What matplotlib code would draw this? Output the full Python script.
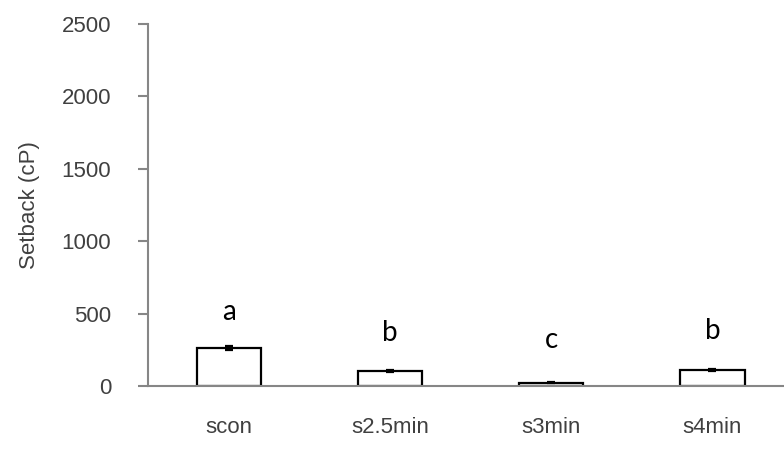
import numpy as np
import matplotlib.pyplot as plt

# setback viscosity per treatment
groups = ['scon', 's2.5min', 's3min', 's4min']
setback = [262, 104, 23, 110]
err = [12, 6, 5, 6]
letters = ['a', 'b', 'c', 'b']
letter_y = [511, 366, 318, 380]

fig = plt.figure(figsize=(7.84, 4.49), dpi=100)
ax = fig.add_axes([0.189, 0.1403, 0.8225, 0.8062])

x = np.arange(len(groups))
ax.bar(x, setback, width=0.4, color='white', edgecolor='black', linewidth=1.6, zorder=2)
ax.errorbar(x, setback, yerr=err, fmt='none', ecolor='black', elinewidth=1.6,
            capsize=3, capthick=1.6, zorder=3)

for xi, lab, ly in zip(x, letters, letter_y):
    ax.text(xi, ly, lab, ha='center', va='center', fontsize=20,
            family='Lato', color='black')

ax.set_xlim(-0.5, len(groups) - 0.5)
ax.set_ylim(0, 2500)
ax.set_yticks(range(0, 2501, 500))
ax.set_xticks(x)
ax.set_xticklabels(groups)

grey = '#868686'
for side in ['top', 'right']:
    ax.spines[side].set_visible(False)
for side in ['left', 'bottom']:
    ax.spines[side].set_color(grey)
    ax.spines[side].set_linewidth(1.5)
    ax.spines[side].set_zorder(4)

ax.tick_params(axis='y', direction='out', length=7.5, width=1.5, color=grey,
               pad=19, labelsize=16, labelcolor='#404040')
ax.tick_params(axis='x', length=0, pad=22, labelsize=16, labelcolor='#404040')
for t in ax.get_xticklabels() + ax.get_yticklabels():
    t.set_family('Liberation Sans')

ax.set_ylabel('Setback (cP)', fontsize=16, color='#404040', family='Liberation Sans',
              labelpad=16)

fig.savefig('out.png', dpi=100)
